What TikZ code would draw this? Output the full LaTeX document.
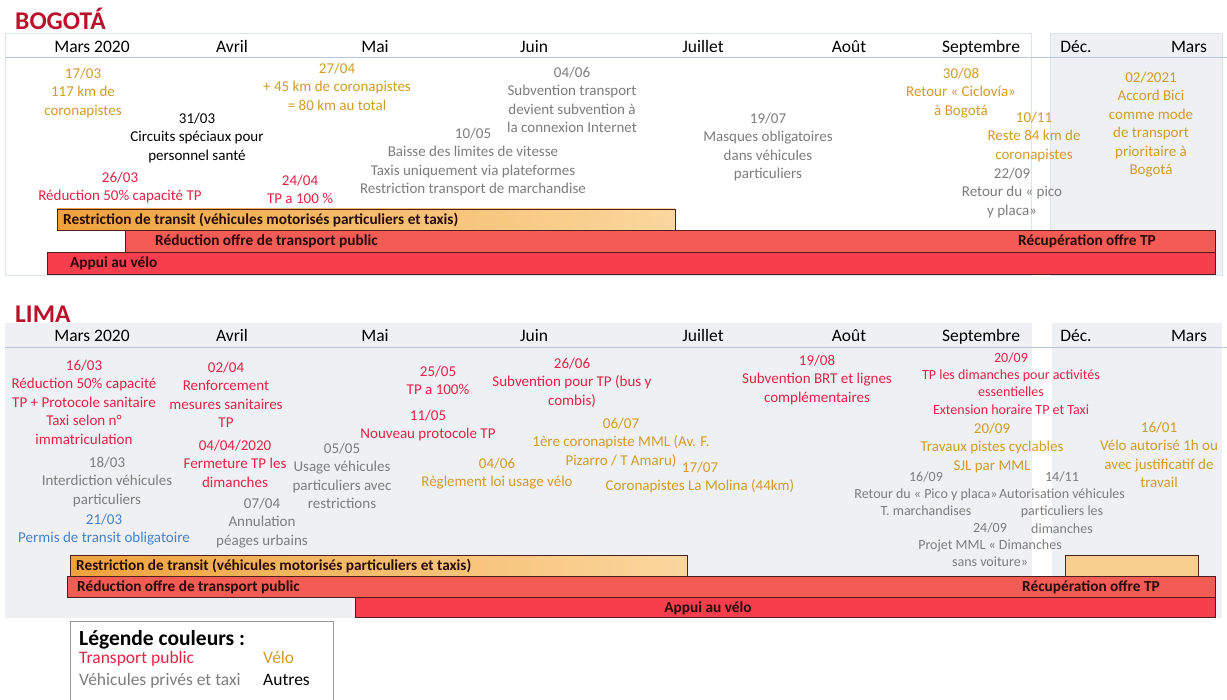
\documentclass[tikz,border=0pt]{standalone}
\usepackage{fontspec}
\setmainfont{Carlito}
\usepackage{tikz}

\begin{document}
\begin{tikzpicture}[x=1pt,y=-1pt]
\definecolor{tpred}{RGB}{226,36,72};
\definecolor{velogold}{RGB}{208,156,42};
\definecolor{vehgray}{RGB}{125,125,125};
\definecolor{permblue}{RGB}{70,130,200};
\definecolor{titlered}{RGB}{185,18,42};
\definecolor{panelgray}{RGB}{238,240,243};
\definecolor{rulecol}{RGB}{180,200,222};
\definecolor{barred}{RGB}{243,92,84};
\definecolor{barvelo}{RGB}{247,62,76};
\definecolor{barorange}{RGB}{239,162,60};
\definecolor{barpale}{RGB}{251,215,158};
\definecolor{bartext}{RGB}{40,10,10};
\definecolor{barline}{RGB}{80,30,30};
\useasboundingbox (0,0) rectangle (1227,700);
\tikzstyle{ev}=[inner sep=0pt, anchor=north, align=center, font=\fontsize{15}{18.5}\selectfont];
\tikzstyle{evs}=[font=\fontsize{14}{17.2}\selectfont];
\tikzstyle{tp}=[ev, text=tpred];
\tikzstyle{velo}=[ev, text=velogold];
\tikzstyle{veh}=[ev, text=vehgray];
\tikzstyle{perm}=[ev, text=permblue];
\tikzstyle{autre}=[ev, text=black];
\tikzstyle{month}=[inner sep=0pt, anchor=base, font=\fontsize{17.5}{20}\selectfont];
\tikzstyle{city}=[inner sep=0pt, anchor=base west, text=titlered, font=\fontsize{25.5}{30}\selectfont\bfseries];
\tikzstyle{bar}=[draw=barline, line width=0.8pt];
\tikzstyle{bartxt}=[inner sep=0pt, anchor=base west, text=bartext, font=\fontsize{15.3}{18}\selectfont\bfseries];
\tikzstyle{legtxt}=[inner sep=0pt, anchor=base west, font=\fontsize{17.5}{20}\selectfont];

\draw[draw=rulecol!50, fill=white] (5,33) rectangle (1031,275);
\draw[draw=rulecol!50, fill=panelgray] (1050,33) rectangle (1222,275);
\fill[panelgray] (5,323) rectangle (1032,618);
\fill[panelgray] (1052,323) rectangle (1222,618);
\draw[rulecol, line width=1pt] (5,58) -- (1227,58);
\draw[rulecol, line width=1pt] (5,348) -- (1227,348);

\node[city] (bogota) at (15,30) {BOGOTÁ};
\node[city] (lima) at (15,323) {LIMA};
\foreach \m/\x [count=\i] in {Mars 2020/92, Avril/232, Mai/375, Juin/534, Juillet/703, Août/849, Septembre/981, Déc./1076, Mars/1189} {
\node[month] (bm\i) at (\x,53) {\m};
\node[month] (lm\i) at (\x,342) {\m};
}

\node[velo] (b1703) at (83,67.5) {17/03\\117 km de\\coronapistes};
\node[autre] (b3103) at (197,112.5) {31/03\\Circuits spéciaux pour\\personnel santé};
\node[tp] (b2603) at (120,171.5) {26/03\\Réduction 50\% capacité TP};
\node[tp] (b2404) at (300,174.5) {24/04\\TP a 100 \%};
\node[velo] (b2704) at (337,62.5) {27/04\\+ 45 km de coronapistes\\= 80 km au total};
\node[veh] (b1005) at (473,127.5) {10/05\\Baisse des limites de vitesse\\Taxis uniquement via plateformes\\Restriction transport de marchandise};
\node[veh] (b0406) at (572,66.5) {04/06\\Subvention transport\\devient subvention à\\la connexion Internet};
\node[veh] (b1907) at (768,112.5) {19/07\\Masques obligatoires\\dans véhicules\\particuliers};
\node[velo] (b3008) at (961,67.5) {30/08\\Retour « Ciclovía»\\à Bogotá};
\node[velo] (b1011) at (1034,111.5) {10/11\\Reste 84 km de\\coronapistes};
\node[veh] (b2209) at (1012,167.5) {22/09\\Retour du « pico\\y placa»};
\node[velo] (b0221) at (1151,71.5) {02/2021\\Accord Bici\\comme mode\\de transport\\prioritaire à\\Bogotá};

\node[tp] (l1603) at (84,359.5) {16/03\\Réduction 50\% capacité\\TP + Protocole sanitaire\\Taxi selon n°\\immatriculation};
\node[veh] (l1803) at (107,456.5) {18/03\\Interdiction véhicules\\particuliers};
\node[perm] (l2103) at (104,513.5) {21/03\\Permis de transit obligatoire};
\node[tp] (l0204) at (226,361.5) {02/04\\Renforcement\\mesures sanitaires\\TP};
\node[tp] (l0404) at (235,439.5) {04/04/2020\\Fermeture TP les\\dimanches};
\node[veh] (l0704) at (262,497.5) {07/04\\Annulation\\péages urbains};
\node[veh] (l0505) at (342,442.5) {05/05\\Usage véhicules\\particuliers avec\\restrictions};
\node[tp] (l2505) at (438,365.5) {25/05\\TP a 100\%};
\node[tp] (l1105) at (428,409.5) {11/05\\Nouveau protocole TP};
\node[tp] (l2606) at (572,357.5) {26/06\\Subvention pour TP (bus y\\combis)};
\node[velo] (l0607) at (621,417.5) {06/07\\1ère coronapiste MML (Av. F.\\Pizarro / T Amaru)};
\node[velo] (l0406) at (497,457.5) {04/06\\Règlement loi usage vélo};
\node[velo] (l1707) at (700,461.5) {17/07\\Coronapistes La Molina (44km)};
\node[tp] (l1908) at (817,354.5) {19/08\\Subvention BRT et lignes\\complémentaires};
\node[tp, evs] (l2009) at (1011,352.5) {20/09\\TP les dimanches pour activités\\essentielles\\Extension horaire TP et Taxi};
\node[velo] (l2009v) at (992,422.5) {20/09\\Travaux pistes cyclables\\SJL par MML};
\node[veh, evs] (l1609) at (926,471.5) {16/09\\Retour du « Pico y placa»\\T. marchandises};
\node[veh, evs] (l1411) at (1062,471.5) {14/11\\Autorisation véhicules\\particuliers les\\dimanches};
\node[veh, evs] (l2409) at (990,522.5) {24/09\\Projet MML « Dimanches\\sans voiture»};
\node[velo] (l1601) at (1159,421.5) {16/01\\Vélo autorisé 1h ou\\avec justificatif de\\travail};

\draw[bar, left color=barorange, right color=barpale] (57,209) rectangle (675,230);
\draw[bar, fill=barred] (125,230) rectangle (1215,252);
\draw[bar, fill=barvelo] (47,252) rectangle (1215,274);
\node[bartxt] (brestr) at (63,224.5) {Restriction de transit (véhicules motorisés particuliers et taxis)};
\node[bartxt] (bredu) at (155,246) {Réduction offre de transport public};
\node[bartxt, anchor=base] (brecup) at (1087,246) {Récupération offre TP};
\node[bartxt] (bvelo) at (70,268) {Appui au vélo};

\draw[bar, left color=barorange, right color=barpale] (70,555) rectangle (687,576);
\draw[bar, fill=barpale!85!barorange] (1065,555) rectangle (1198,576);
\draw[bar, fill=barred] (67,576) rectangle (1215,597);
\draw[bar, fill=barvelo] (355,597) rectangle (1215,617);
\node[bartxt] (lrestr) at (76,570.5) {Restriction de transit (véhicules motorisés particuliers et taxis)};
\node[bartxt] (lredu) at (77,591.5) {Réduction offre de transport public};
\node[bartxt, anchor=base] (lrecup) at (1091,591.5) {Récupération offre TP};
\node[bartxt, anchor=base] (lvelo) at (708,612) {Appui au vélo};

\draw[draw=gray!80, fill=white, line width=0.8pt] (70,621) rectangle (333,705);
\node[legtxt, font=\fontsize{21.5}{25}\selectfont\bfseries] (legtitle) at (79,645) {Légende couleurs :};
\node[legtxt, text=tpred] (legtp) at (79,663.5) {Transport public};
\node[legtxt, text=velogold] (legvelo) at (263,663.5) {Vélo};
\node[legtxt, text=vehgray] (legveh) at (79,685) {Véhicules privés et taxi};
\node[legtxt] (legautre) at (263,685) {Autres};
\end{tikzpicture}
\end{document}
